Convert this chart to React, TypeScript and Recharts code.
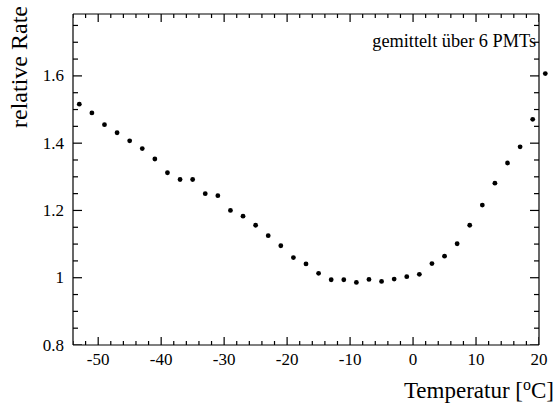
import React from 'react';
import { ScatterChart, Scatter, XAxis, YAxis, ReferenceDot } from 'recharts';

const temperatures = [-53, -51, -49, -47, -45, -43, -41, -39, -37, -35, -33, -31, -29, -27, -25, -23, -21, -19, -17, -15, -13, -11, -9, -7, -5, -3, -1, 1, 3, 5, 7, 9, 11, 13, 15, 17, 19, 21];
const rates = [1.516, 1.49, 1.455, 1.431, 1.407, 1.384, 1.353, 1.312, 1.292, 1.292, 1.25, 1.244, 1.2, 1.183, 1.156, 1.125, 1.095, 1.06, 1.041, 1.013, 0.994, 0.994, 0.986, 0.995, 0.989, 0.996, 1.003, 1.01, 1.042, 1.064, 1.101, 1.156, 1.216, 1.281, 1.341, 1.389, 1.471, 1.607];

const xDomain = [-54, 20];
const yDomain = [0.8, 1.784];
const xMajorTicks = [-50, -40, -30, -20, -10, 0, 10, 20];
const xAllTicks = [-54, -52, -50, -48, -46, -44, -42, -40, -38, -36, -34, -32, -30, -28, -26, -24, -22, -20, -18, -16, -14, -12, -10, -8, -6, -4, -2, 0, 2, 4, 6, 8, 10, 12, 14, 16, 18, 20];
const yMajorTicks = [0.8, 1, 1.2, 1.4, 1.6];
const yAllTicks = [0.8, 0.85, 0.9, 0.95, 1, 1.05, 1.1, 1.15, 1.2, 1.25, 1.3, 1.35, 1.4, 1.45, 1.5, 1.55, 1.6, 1.65, 1.7, 1.75];

const xTitle = 'Temperatur [';
const yTitle = 'relative Rate';
const note = 'gemittelt über 6 PMTs';

const FONT = 'Liberation Serif';

const isMajor = (list: number[], v: number) => list.some((m) => Math.abs(m - v) < 1e-6);

const data = temperatures.map((t, i) => ({ t, r: rates[i] }));

// tick-mark series (placed through the axis scales)
const bottomMarks = xAllTicks.map((v) => ({ t: v, r: yDomain[0], major: isMajor(xMajorTicks, v) }));
const topMarks = xAllTicks.map((v) => ({ t: v, r: yDomain[1], major: isMajor(xMajorTicks, v) }));
const leftMarks = yAllTicks.map((v) => ({ t: xDomain[0], r: v, major: isMajor(yMajorTicks, v) }));
const rightMarks = yAllTicks.map((v) => ({ t: xDomain[1], r: v, major: isMajor(yMajorTicks, v) }));

const BottomMark = (p: any) => {
  const len = p.payload && p.payload.major ? 8 : 4;
  return <rect x={p.cx - 0.6} y={p.cy - len} width={1.2} height={len} fill="#000" />;
};
const TopMark = (p: any) => {
  const len = p.payload && p.payload.major ? 8 : 4;
  return <rect x={p.cx - 0.6} y={p.cy} width={1.2} height={len} fill="#000" />;
};
const LeftMark = (p: any) => {
  const len = p.payload && p.payload.major ? 9 : 5;
  return <rect x={p.cx} y={p.cy - 0.6} width={len} height={1.2} fill="#000" />;
};
const RightMark = (p: any) => {
  const len = p.payload && p.payload.major ? 9 : 5;
  return <rect x={p.cx - len} y={p.cy - 0.6} width={len} height={1.2} fill="#000" />;
};

const BottomLabel = (props: any) => {
  const { x, y, payload } = props;
  const v = payload.value;
  if (!isMajor(xMajorTicks, v)) return <g />;
  return (
    <text x={x} y={y + 20} textAnchor="middle" fontFamily={FONT} fontSize={17} fill="#000">
      {String(v)}
    </text>
  );
};

const LeftLabel = (props: any) => {
  const { x, y, payload } = props;
  const v = payload.value;
  if (!isMajor(yMajorTicks, v)) return <g />;
  return (
    <text x={x - 9} y={y + 5.5} textAnchor="end" fontFamily={FONT} fontSize={17} fill="#000">
      {String(v)}
    </text>
  );
};

const Dot = (p: any) => <circle cx={p.cx} cy={p.cy} r={2.4} fill="#000" />;

const AXIS_LINE = { stroke: '#000', strokeWidth: 1.2 };

export default function App() {
  const overflow = data.filter((d) => d.t > xDomain[1]);
  return (
    <div style={{ position: 'absolute', left: 0, top: 0, background: '#fff' }}>
      <ScatterChart width={556} height={404} margin={{ top: 13, right: 16, bottom: 0, left: 0 }}>
        <XAxis
          xAxisId="b"
          dataKey="t"
          type="number"
          domain={xDomain}
          allowDataOverflow
          ticks={xMajorTicks}
          interval={0}
          height={59}
          tickSize={0}
          tickMargin={0}
          tickLine={false}
          axisLine={AXIS_LINE}
          tick={<BottomLabel />}
        />
        <XAxis
          xAxisId="t"
          orientation="top"
          dataKey="t"
          type="number"
          domain={xDomain}
          allowDataOverflow
          ticks={xMajorTicks}
          height={1}
          tickLine={false}
          tick={false}
          axisLine={AXIS_LINE}
        />
        <YAxis
          yAxisId="l"
          dataKey="r"
          type="number"
          domain={yDomain}
          allowDataOverflow
          ticks={yMajorTicks}
          interval={0}
          width={73}
          tickSize={0}
          tickMargin={0}
          tickLine={false}
          axisLine={AXIS_LINE}
          tick={<LeftLabel />}
        />
        <YAxis
          yAxisId="r"
          orientation="right"
          dataKey="r"
          type="number"
          domain={yDomain}
          allowDataOverflow
          ticks={yMajorTicks}
          width={1}
          tickLine={false}
          tick={false}
          axisLine={AXIS_LINE}
        />
        <Scatter data={bottomMarks} xAxisId="b" yAxisId="l" dataKey="r" shape={<BottomMark />} isAnimationActive={false} />
        <Scatter data={topMarks} xAxisId="b" yAxisId="l" dataKey="r" shape={<TopMark />} isAnimationActive={false} />
        <Scatter data={leftMarks} xAxisId="b" yAxisId="l" dataKey="r" shape={<LeftMark />} isAnimationActive={false} />
        <Scatter data={rightMarks} xAxisId="b" yAxisId="l" dataKey="r" shape={<RightMark />} isAnimationActive={false} />
        <Scatter data={data} xAxisId="b" yAxisId="l" dataKey="r" shape={<Dot />} isAnimationActive={false} />
        {overflow.map((d) => (
          <ReferenceDot
            key={d.t}
            xAxisId="b"
            yAxisId="l"
            x={d.t}
            y={d.r}
            r={2.4}
            fill="#000"
            stroke="none"
            ifOverflow="visible"
          />
        ))}
        <text x={554} y={398} textAnchor="end" fontFamily={FONT} fontSize={23} fill="#000">
          {xTitle}
          <tspan dy={-8} fontSize={16}>o</tspan>
          <tspan dy={8}>C]</tspan>
        </text>
        <text x={536} y={47} textAnchor="end" fontFamily={FONT} fontSize={18.3} fill="#000">
          {note}
        </text>
        <text x={27} y={6} transform="rotate(-90 27 6)" textAnchor="end" fontFamily={FONT} fontSize={24} fill="#000">
          {yTitle}
        </text>
      </ScatterChart>
    </div>
  );
}
